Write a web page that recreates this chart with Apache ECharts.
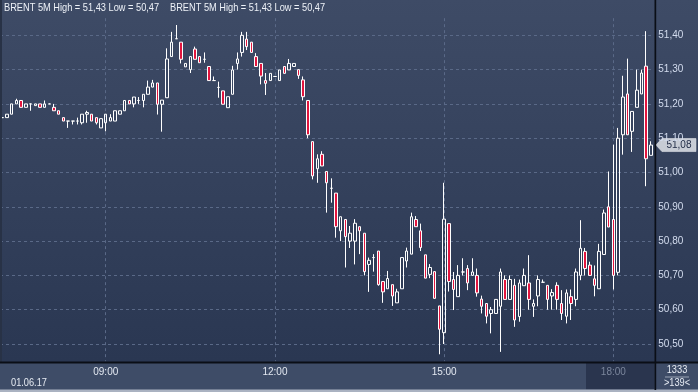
<!DOCTYPE html>
<html><head><meta charset="utf-8">
<script src="https://cdn.jsdelivr.net/npm/echarts@6/dist/echarts.min.js"></script>
<style>html,body{margin:0;padding:0;background:#2f3c57;}#c{width:698px;height:392px;}</style>
</head><body><div id="c"></div>
<script>
// ---- data (5-minute candles, BRENT, 01.06.17) ----
const startTime = '07:10';
const stepMinutes = 5;
const openP = [
51.16,51.16,51.17,51.20,51.21,51.19,51.20,51.195,51.20,51.19,
51.20,51.19,51.18,51.16,51.15,51.15,51.15,51.145,51.17,51.17,
51.16,51.13,51.145,51.15,51.15,51.17,51.18,51.21,51.20,51.21,
51.21,51.228,51.249,51.261,51.199,51.218,51.338,51.39,51.38,51.308,
51.30,51.36,51.338,51.33,51.309,51.268,51.248,51.238,51.189,51.228,
51.318,51.35,51.389,51.38,51.338,51.318,51.268,51.268,51.28,51.268,
51.309,51.299,51.309,51.30,51.27,51.21,51.09,51.011,51.053,51.003,
50.954,50.94,50.83,50.863,50.80,50.80,50.842,50.823,50.732,50.752,
50.771,50.682,50.661,50.673,50.62,50.661,50.742,50.762,50.863,50.83,
50.76,50.703,50.711,50.611,50.533,50.851,50.688,50.638,50.71,50.72,
50.70,50.70,50.631,50.618,50.589,50.589,50.61,50.688,50.63,50.671,
50.58,50.67,50.678,50.61,50.64,50.68,50.671,50.64,50.671,50.618,
50.581,50.638,50.63,50.70,50.77,50.73,50.69,50.661,50.761,50.90,
50.863,50.709,51.11,51.229,51.12,51.19,51.229,51.31,51.05];
const closeP = [
51.16,51.17,51.20,51.21,51.19,51.20,51.20,51.20,51.19,51.20,
51.20,51.18,51.17,51.15,51.15,51.15,51.15,51.17,51.175,51.15,
51.145,51.157,51.17,51.16,51.18,51.18,51.21,51.20,51.22,51.21,
51.228,51.249,51.261,51.199,51.211,51.331,51.38,51.39,51.33,51.318,
51.338,51.33,51.32,51.33,51.268,51.268,51.248,51.199,51.221,51.299,
51.331,51.40,51.367,51.35,51.309,51.281,51.26,51.289,51.28,51.299,
51.289,51.318,51.318,51.283,51.221,51.11,50.99,51.04,51.019,50.97,
50.954,50.842,50.871,50.813,50.823,50.852,50.83,50.711,50.744,50.752,
50.673,50.652,50.691,50.64,50.652,50.752,50.771,50.871,50.842,50.781,
50.692,50.723,50.633,50.543,50.864,50.682,50.659,50.70,50.71,50.678,
50.71,50.649,50.61,50.581,50.60,50.63,50.71,50.63,50.688,50.57,
50.678,50.70,50.63,50.618,50.688,50.68,50.63,50.65,50.63,50.589,
50.649,50.618,50.71,50.779,50.72,50.70,50.671,50.77,50.882,50.841,
50.70,51.10,51.22,51.11,51.178,51.24,51.29,51.04,51.08];
const lowP = [
51.16,51.16,51.17,51.20,51.19,51.19,51.18,51.195,51.19,51.19,
51.20,51.18,51.17,51.15,51.13,51.14,51.14,51.14,51.145,51.15,
51.14,51.13,51.12,51.15,51.15,51.17,51.18,51.20,51.19,51.20,
51.19,51.228,51.249,51.169,51.119,51.218,51.338,51.39,51.318,51.308,
51.29,51.33,51.32,51.32,51.268,51.268,51.218,51.199,51.189,51.228,
51.30,51.338,51.357,51.35,51.309,51.257,51.226,51.268,51.28,51.268,
51.289,51.299,51.309,51.273,51.21,51.10,50.98,50.97,51.019,50.883,
50.912,50.81,50.80,50.723,50.78,50.732,50.762,50.70,50.652,50.711,
50.67,50.62,50.661,50.611,50.62,50.661,50.723,50.762,50.842,50.771,
50.692,50.692,50.633,50.47,50.50,50.653,50.599,50.638,50.70,50.657,
50.70,50.638,50.589,50.56,50.531,50.589,50.477,50.63,50.63,50.55,
50.565,50.67,50.60,50.579,50.61,50.68,50.60,50.60,50.60,50.57,
50.56,50.57,50.61,50.686,50.70,50.70,50.639,50.661,50.761,50.841,
50.659,50.70,51.052,51.11,51.06,51.19,51.229,50.96,51.05];
const highP = [
51.16,51.17,51.20,51.215,51.21,51.20,51.20,51.20,51.20,51.21,
51.20,51.20,51.18,51.16,51.15,51.15,51.16,51.17,51.18,51.17,
51.16,51.157,51.17,51.17,51.18,51.18,51.21,51.21,51.22,51.22,
51.228,51.268,51.27,51.261,51.211,51.362,51.41,51.43,51.38,51.318,
51.338,51.367,51.338,51.35,51.309,51.28,51.265,51.238,51.221,51.311,
51.35,51.41,51.41,51.38,51.348,51.318,51.29,51.289,51.28,51.299,
51.309,51.331,51.318,51.30,51.28,51.21,51.09,51.053,51.062,51.003,
50.983,50.94,50.871,50.863,50.844,50.864,50.842,50.823,50.752,50.762,
50.771,50.682,50.713,50.673,50.661,50.752,50.781,50.883,50.873,50.851,
50.76,50.733,50.711,50.611,50.97,50.851,50.71,50.73,50.75,50.73,
50.75,50.72,50.641,50.618,50.608,50.63,50.72,50.70,50.70,50.69,
50.688,50.72,50.759,50.63,50.70,50.688,50.671,50.66,50.68,50.657,
50.659,50.659,50.72,50.861,50.78,50.74,50.729,50.792,50.892,51.003,
51.081,51.13,51.282,51.332,51.178,51.30,51.30,51.412,51.091];
const xTickLabels = ['09:00','12:00','15:00','18:00'];
const dimTickLabel = '18:00';
const dateLabel = '01.06.17';
const barsTotalLabel = '1333';
const yMin = 50.45, yMax = 51.45, yStep = 0.1;

// ---- build ----
const FONT = "'Liberation Sans',Arial,sans-serif";
const NARROW = 0.84;
const fmt = v => v.toFixed(2).replace('.', ',');
const times = [];
(function(){
  const [h0, m0] = startTime.split(':').map(Number);
  for (let k = 0; k < openP.length; k++) {
    const m = h0 * 60 + m0 + stepMinutes * k;
    times.push(String(Math.floor(m / 60)).padStart(2, '0') + ':' + String(m % 60).padStart(2, '0'));
  }
})();
const candles = openP.map((o, i) => [o, closeP[i], lowP[i], highP[i]]);
const hi = Math.max(...highP), lo = Math.min(...lowP);
const legendText = 'BRENT 5M High = ' + fmt(hi) + ' Low = ' + fmt(lo);
const last = closeP[closeP.length - 1];
const isTick = v => xTickLabels.indexOf(v) >= 0;

const chart = echarts.init(document.getElementById('c'), null, {renderer: 'canvas'});
const gridLine = {color: '#5a6987', type: [3, 3], width: 1};
function txt(x, y, text, align, fill) {
  return {type: 'text', z: 30, silent: true, x: x, y: y, scaleX: NARROW, scaleY: 1,
    style: {text: text, fill: fill || '#e6ebf3', font: '11px ' + FONT, align: align || 'left', verticalAlign: 'middle'}};
}
chart.setOption({
  animation: false,
  backgroundColor: 'transparent',
  grid: {left: 0, right: 44.7, top: 18.15, bottom: 30.85, containLabel: false, outerBoundsMode: 'none'},
  xAxis: {
    type: 'category', data: times, boundaryGap: true, z: 10,
    axisLine: {show: false}, axisTick: {show: false},
    axisLabel: {
      interval: (i, v) => isTick(v), margin: 6, fontSize: 10, fontFamily: FONT,
      color: (v) => v === dimTickLabel ? '#7b869c' : '#e3e8f1'
    },
    splitLine: {show: true, alignWithLabel: true, interval: (i, v) => isTick(v), lineStyle: gridLine}
  },
  yAxis: {
    type: 'value', position: 'right', min: yMin, max: yMax, splitNumber: 10,
    minInterval: yStep, maxInterval: yStep, z: 10,
    axisLine: {show: false}, axisTick: {show: false},
    axisLabel: {margin: 5, fontSize: 10, fontFamily: FONT, color: '#d3dcee',
      showMinLabel: false, showMaxLabel: false, formatter: v => fmt(v)},
    splitLine: {show: true, showMinLine: false, showMaxLine: false, lineStyle: gridLine}
  },
  series: [{
    type: 'candlestick', z: 20, barWidth: 3, data: candles,
    itemStyle: {color: 'rgba(0,0,0,0)', color0: '#e2153e', borderColor: '#ffffff',
      borderColor0: '#ffffff', borderColorDoji: '#ffffff', borderWidth: 1},
    emphasis: {disabled: true},
    markPoint: {
      silent: true, animation: false,
      symbol: 'path://M0,6.5L6,0L40,0L40,13L6,13Z', symbolSize: [40, 13], symbolOffset: [25, 0],
      itemStyle: {color: '#c7ccd5', borderColor: '#e6e9ee', borderWidth: 0.5},
      label: {show: true, position: 'inside', offset: [3, 0], color: '#1d2843', fontSize: 10,
        fontFamily: FONT, formatter: p => fmt(p.value)},
      data: [{coord: [times[times.length - 1], last], value: last}]
    }
  }],
  graphic: [
    {type: 'rect', z: -10, silent: true, shape: {x: 0, y: 0, width: 698, height: 392},
      style: {fill: new echarts.graphic.LinearGradient(0, 0, 0, 1, [
        {offset: 0, color: '#3e4b66'}, {offset: 0.92, color: '#2a3752'}, {offset: 1, color: '#2a3752'}])}},
    {type: 'rect', z: 5, silent: true, shape: {x: 0, y: 362, width: 698, height: 30}, style: {fill: '#3e4c67'}},
    {type: 'rect', z: 6, silent: true, shape: {x: 586, y: 363, width: 68.5, height: 26.5}, style: {fill: '#2a354e'}},
    {type: 'rect', z: 6, silent: true, shape: {x: 0, y: 389.5, width: 698, height: 2.5}, style: {fill: '#aab2c1'}},
    {type: 'rect', z: 30, silent: true, shape: {x: 0, y: 0, width: 2, height: 362}, style: {fill: '#283246'}},
    {type: 'rect', z: 30, silent: true, shape: {x: 0, y: 361.5, width: 698, height: 2}, style: {fill: '#0a0e16'}},
    {type: 'rect', z: 30, silent: true, shape: {x: 654.5, y: 0, width: 1.7, height: 390}, style: {fill: '#0a0e16'}},
    txt(4, 8, legendText, 'left', '#eef2f8'),
    txt(170, 8, legendText, 'left', '#eef2f8'),
    txt(11, 383, dateLabel),
    txt(677, 370, barsTotalLabel, 'center'),
    {type: 'rect', z: 30, silent: true, shape: {x: 665, y: 376.5, width: 24, height: 1}, style: {fill: '#9aa4b6'}},
    txt(677, 383, '>' + openP.length + '<', 'center')
  ]
});
</script></body></html>
